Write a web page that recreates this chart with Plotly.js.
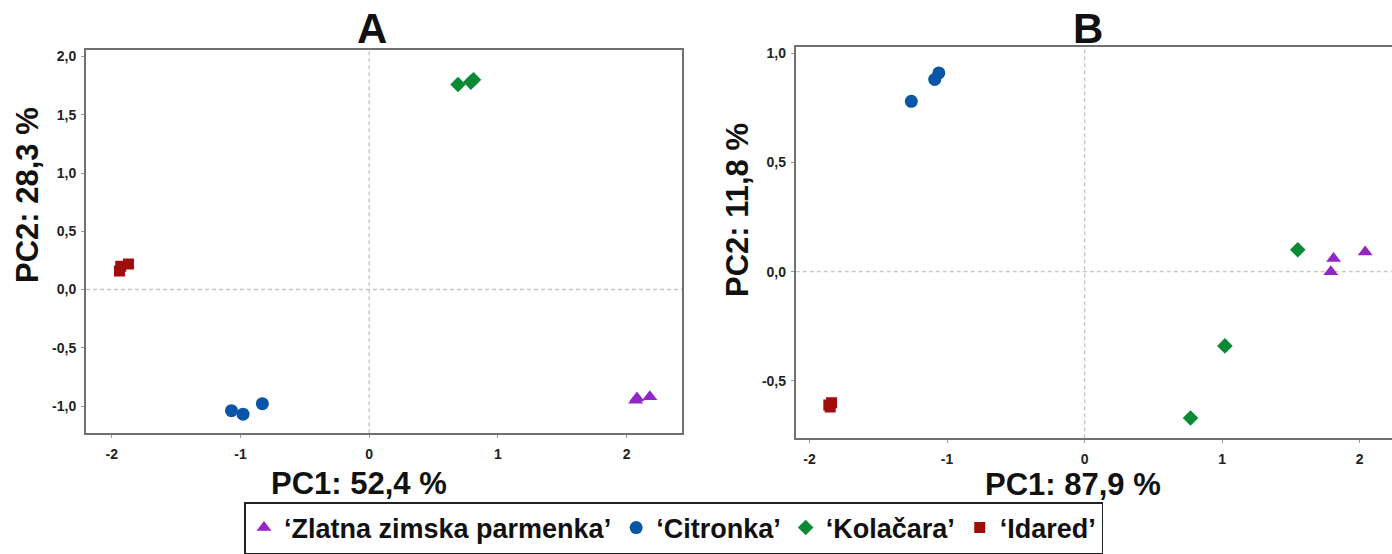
<!DOCTYPE html>
<html>
<head>
<meta charset="utf-8">
<script src="https://cdn.plot.ly/plotly-3.0.1.min.js"></script>
<style>html,body{margin:0;padding:0;background:#fff;}#chart{width:1392px;height:554px;}</style>
</head>
<body>
<div id="chart"></div>
<script>
// ---- data ----
const cultivars = ["‘Zlatna zimska parmenka’", "‘Citronka’", "‘Kolačara’", "‘Idared’"];

// Panel A: PC1 52,4 % / PC2 28,3 %
const zlatnaA_x   = [2.07, 2.08, 2.18];
const zlatnaA_y   = [-0.95, -0.93, -0.92];
const citronkaA_x = [-1.07, -0.98, -0.83];
const citronkaA_y = [-1.04, -1.07, -0.98];
const kolacaraA_x = [0.69, 0.79, 0.81];
const kolacaraA_y = [1.76, 1.78, 1.80];
const idaredA_x   = [-1.94, -1.93, -1.87];
const idaredA_y   = [0.16, 0.20, 0.22];

// Panel B: PC1 87,9 % / PC2 11,8 %
const zlatnaB_x   = [1.79, 1.81, 2.04];
const zlatnaB_y   = [0.00, 0.06, 0.09];
const citronkaB_x = [-1.26, -1.09, -1.06];
const citronkaB_y = [0.78, 0.88, 0.91];
const kolacaraB_x = [0.77, 1.02, 1.55];
const kolacaraB_y = [-0.67, -0.34, 0.10];
const idaredB_x   = [-1.86, -1.85, -1.84];
const idaredB_y   = [-0.61, -0.62, -0.60];

// tick labels
const xTickVals = [-2, -1, 0, 1, 2];
const xTickText = ["-2", "-1", "0", "1", "2"];
const yTickValsA = [-1.0, -0.5, 0.0, 0.5, 1.0, 1.5, 2.0];
const yTickTextA = ["-1,0", "-0,5", "0,0", "0,5", "1,0", "1,5", "2,0"];
const yTickValsB = [-0.5, 0.0, 0.5, 1.0];
const yTickTextB = ["-0,5", "0,0", "0,5", "1,0"];

const panelTitles = ["A", "B"];
const xTitles = ["PC1: 52,4 %", "PC1: 87,9 %"];
const yTitles = ["PC2: 28,3 %", "PC2: 11,8 %"];

// ---- styles ----
const FONT = "Liberation Sans, Arial, sans-serif";
const colors = ["#9226c6", "#0a56a6", "#0a8a33", "#a00d0d"];
const symbols = ["triangle-up", "circle", "diamond", "square"];
const sizes = [13, 13, 12, 11];

const seriesA = [[zlatnaA_x, zlatnaA_y], [citronkaA_x, citronkaA_y], [kolacaraA_x, kolacaraA_y], [idaredA_x, idaredA_y]];
const seriesB = [[zlatnaB_x, zlatnaB_y], [citronkaB_x, citronkaB_y], [kolacaraB_x, kolacaraB_y], [idaredB_x, idaredB_y]];

const traces = [];
seriesA.forEach((s, i) => traces.push({
  type: "scatter", mode: "markers", x: s[0], y: s[1], xaxis: "x", yaxis: "y",
  name: cultivars[i], legendgroup: "g" + i, showlegend: true,
  marker: {symbol: symbols[i], color: colors[i], size: sizes[i], line: {width: 0}}
}));
seriesB.forEach((s, i) => traces.push({
  type: "scatter", mode: "markers", x: s[0], y: s[1], xaxis: "x2", yaxis: "y2",
  name: cultivars[i], legendgroup: "g" + i, showlegend: false,
  marker: {symbol: symbols[i], color: colors[i], size: sizes[i], line: {width: 0}}
}));

const W = 1392, H = 554;
const axisCommon = {
  showgrid: false, zeroline: false, showline: true, linecolor: "#707070", linewidth: 2,
  mirror: true, ticks: "outside", ticklen: 3, tickcolor: "#9a9a9a", tickwidth: 1,
  tickfont: {family: FONT, size: 14, color: "#222", weight: "bold"}, fixedrange: true
};

const dash = {color: "#c4c4c4", width: 1.3, dash: "4px,3px"};
const shapes = [
  {type: "line", xref: "x", yref: "y domain", x0: 0, x1: 0, y0: 0, y1: 1, line: dash, layer: "below"},
  {type: "line", xref: "x domain", yref: "y", x0: 0, x1: 1, y0: 0, y1: 0, line: dash, layer: "below"},
  {type: "line", xref: "x2", yref: "y2 domain", x0: 0, x1: 0, y0: 0, y1: 1, line: dash, layer: "below"},
  {type: "line", xref: "x2 domain", yref: "y2", x0: 0, x1: 1, y0: 0, y1: 0, line: dash, layer: "below"}
];

function ann(text, x, y, size, angle) {
  return {text: text, xref: "paper", yref: "paper", x: x / W, y: 1 - y / H,
    xanchor: "center", yanchor: "middle", showarrow: false, textangle: angle || 0,
    font: {family: FONT, size: size, color: "#111", weight: "bold"}};
}

const layout = {
  width: W, height: H,
  margin: {l: 0, r: 0, t: 0, b: 0, pad: 0},
  paper_bgcolor: "#fff", plot_bgcolor: "#fff",
  showlegend: true,
  legend: {
    orientation: "h", x: 244 / W, xanchor: "left", y: 0, yanchor: "bottom",
    bgcolor: "rgba(255,255,255,0)", bordercolor: "#222", borderwidth: 1.5,
    font: {family: FONT, size: 27, color: "#111", weight: "bold"}, itemclick: false
  },
  xaxis: Object.assign({}, axisCommon, {domain: [86 / W, 682 / W], range: [-2.20, 2.43], anchor: "y",
    tickvals: xTickVals, ticktext: xTickText, ticklabelstandoff: 4}),
  yaxis: Object.assign({}, axisCommon, {domain: [1 - 433.3 / H, 1 - 49.5 / H], range: [-1.234, 2.06], anchor: "x",
    tickvals: yTickValsA, ticktext: yTickTextA, ticklabelstandoff: 2}),
  xaxis2: Object.assign({}, axisCommon, {domain: [795.8 / W, 1], range: [-2.10, 2.235], anchor: "y2",
    tickvals: xTickVals, ticktext: xTickText, ticklabelstandoff: 4}),
  yaxis2: Object.assign({}, axisCommon, {domain: [1 - 438.3 / H, 1 - 46.7 / H], range: [-0.763, 1.03], anchor: "x2",
    tickvals: yTickValsB, ticktext: yTickTextB, ticklabelstandoff: 2}),
  shapes: shapes,
  annotations: [
    ann(panelTitles[0], 372, 28, 42),
    ann(panelTitles[1], 1088, 28, 42),
    ann(xTitles[0], 359, 483, 31),
    ann(xTitles[1], 1073, 484, 31),
    ann(yTitles[0], 27, 195, 31, -90),
    ann(yTitles[1], 737, 210, 31, -90)
  ]
};

Plotly.newPlot("chart", traces, layout, {displayModeBar: false, staticPlot: true});
</script>
</body>
</html>
